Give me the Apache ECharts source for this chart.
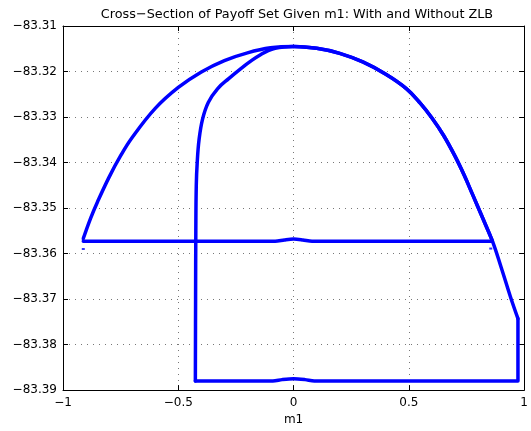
<!DOCTYPE html>
<html>
<head>
<meta charset="utf-8">
<script src="https://cdn.jsdelivr.net/npm/echarts@6/dist/echarts.min.js"></script>
<style>
  html, body { margin: 0; padding: 0; background: #fff; }
  #chart { width: 531px; height: 431px; }
</style>
</head>
<body>
<div id="chart"></div>
<script>
// Axis ticks
const xTicks = [-1, -0.5, 0, 0.5, 1];
const yTicks = [-83.39, -83.38, -83.37, -83.36, -83.35, -83.34, -83.33, -83.32, -83.31];

// Without ZLB: frontier arc from the left corner over the peak to the flat edge
const arcA_m = [-0.912, -0.88, -0.85, -0.8, -0.75, -0.7, -0.6, -0.5, -0.4, -0.3, -0.2, -0.1, 0,
                0.1, 0.2, 0.3, 0.4, 0.49, 0.55, 0.6, 0.65, 0.7, 0.74, 0.776, 0.82, 0.862];
const arcA_y = [-83.3567, -83.3522, -83.3486, -83.3432, -83.3385, -83.3345, -83.3281, -83.3235, -83.3201, -83.3176, -83.3159, -83.3148, -83.3145,
                -83.3149, -83.3160, -83.3179, -83.3206, -83.3238, -83.3270, -83.3302, -83.3340, -83.3386, -83.3428, -83.3470, -83.3522, -83.3572];
// Without ZLB: flat lower edge (small hump at m1 = 0)
const edgeA_m = [0.862, 0.08, 0.04, 0, -0.04, -0.08, -0.912];
const edgeA_y = [-83.3573, -83.3573, -83.3570, -83.3568, -83.3570, -83.3573, -83.3573];

// With ZLB: steep left boundary rising into the peak
const leftB_m = [-0.426, -0.425, -0.424, -0.422, -0.418, -0.41, -0.395, -0.37, -0.33, -0.28, -0.23, -0.18, -0.14, -0.11, -0.08, -0.04, 0];
const leftB_y = [-83.3880, -83.3700, -83.3550, -83.3450, -83.3400, -83.3350, -83.3305, -83.3268, -83.3238, -83.3215, -83.3194, -83.3175, -83.3162, -83.3154, -83.3149, -83.3146, -83.3145];
// With ZLB: right arc continuing past the flat edge
const rightB_m = [0, 0.1, 0.2, 0.3, 0.4, 0.49, 0.55, 0.6, 0.65, 0.7, 0.74, 0.776, 0.82, 0.862, 0.9, 0.941, 0.973];
const rightB_y = [-83.3145, -83.3149, -83.3160, -83.3179, -83.3206, -83.3238, -83.3270, -83.3302, -83.3340, -83.3386, -83.3428, -83.3470, -83.3522, -83.3572, -83.3630, -83.3696, -83.3743];
// With ZLB: right wall and floor (small hump at m1 = 0)
const floorB_m = [0.973, 0.973, 0.09, 0.05, 0, -0.05, -0.09, -0.426];
const floorB_y = [-83.3743, -83.3880, -83.3880, -83.3877, -83.3875, -83.3877, -83.3880, -83.3880];

// Isolated points just below the flat edge
const dots_m = [-0.912, 0.855];
const dots_y = [-83.3590, -83.3589];

const pair = (xs, ys) => xs.map((v, i) => [v, ys[i]]);
const minus = s => String(s).replace('-', '\u2212');
const font = 'DejaVu Sans, Liberation Sans, Arial, sans-serif';
const BLUE = '#0000ff';

const chart = echarts.init(document.getElementById('chart'), null, { renderer: 'canvas' });

const axisCommon = {
  axisLine: { show: true, onZero: false, lineStyle: { color: '#000', width: 1 } },
  axisTick: { show: true, inside: true, length: 5, lineStyle: { color: '#000' } },
};

const path = (xs, ys, smooth) => ({
  type: 'line', data: pair(xs, ys), showSymbol: false, symbol: 'none', smooth: smooth,
  lineStyle: { color: BLUE, width: 3.5, join: 'round', cap: 'round' }, z: 3
});

chart.setOption({
  animation: false,
  backgroundColor: '#fff',
  title: {
    text: 'Cross\u2212Section of Payoff Set Given m1: With and Without ZLB',
    left: 292, top: 3, textAlign: 'center',
    textStyle: { fontFamily: font, fontSize: 12.8, fontWeight: 'normal', color: '#000' }
  },
  grid: { left: 63, top: 26, right: 4, bottom: 38, containLabel: false },
  xAxis: [
    Object.assign({
      type: 'value', min: xTicks[0], max: xTicks[xTicks.length - 1], interval: 0.5,
      name: 'm1', nameLocation: 'middle', nameGap: 20,
      nameTextStyle: { fontFamily: font, fontSize: 12, color: '#000' },
      axisLabel: { formatter: v => minus(v), fontFamily: font, fontSize: 12, color: '#000', margin: 7 },
      splitLine: { show: true, lineStyle: { color: '#777', type: [1, 5], width: 1 } }
    }, axisCommon),
    Object.assign({
      type: 'value', position: 'top', min: xTicks[0], max: xTicks[xTicks.length - 1], interval: 0.5,
      axisLabel: { show: false }, splitLine: { show: false }
    }, axisCommon)
  ],
  yAxis: [
    Object.assign({
      type: 'value', min: yTicks[0], max: yTicks[yTicks.length - 1], interval: 0.01,
      axisLabel: { formatter: v => minus(v.toFixed(2)), fontFamily: font, fontSize: 12, color: '#000', margin: 6 },
      splitLine: { show: true, lineStyle: { color: '#777', type: [1, 5], width: 1 } }
    }, axisCommon),
    Object.assign({
      type: 'value', position: 'right', min: yTicks[0], max: yTicks[yTicks.length - 1], interval: 0.01,
      axisLabel: { show: false }, splitLine: { show: false }
    }, axisCommon)
  ],
  series: [
    path(arcA_m, arcA_y, 0.4),
    path(edgeA_m, edgeA_y, 0.3),
    path(leftB_m, leftB_y, 0.4),
    path(rightB_m, rightB_y, 0.4),
    path(floorB_m, floorB_y, 0.3),
    {
      type: 'scatter', data: pair(dots_m, dots_y), symbol: 'rect', symbolSize: [3, 2],
      itemStyle: { color: BLUE }, z: 3
    }
  ]
});
</script>
</body>
</html>
